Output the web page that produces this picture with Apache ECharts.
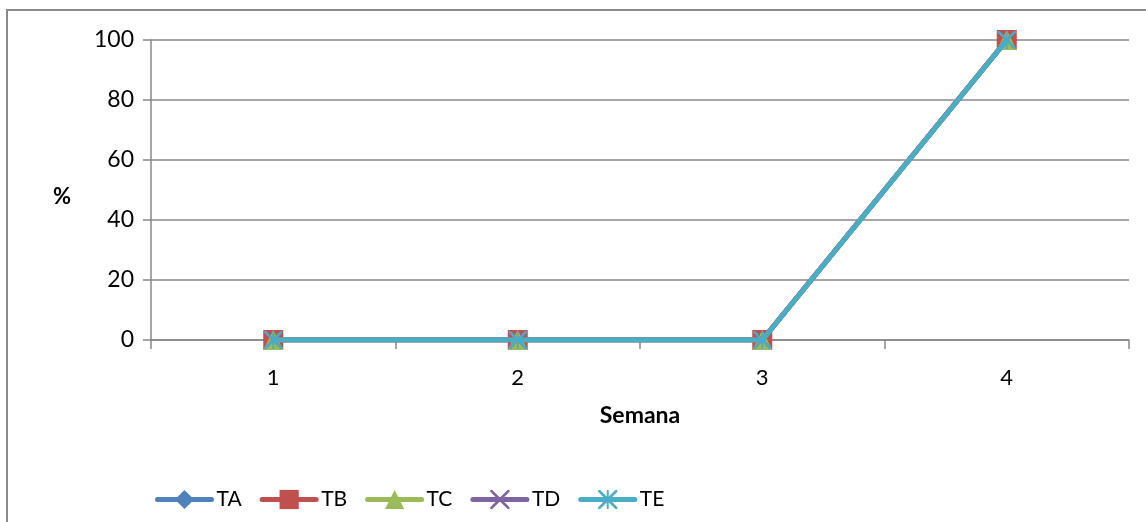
<!DOCTYPE html>
<html>
<head>
<meta charset="utf-8">
<script src="https://cdn.jsdelivr.net/npm/echarts@6/dist/echarts.min.js"></script>
<style>
  html, body { margin: 0; padding: 0; background: #fff; }
  #main { width: 1146px; height: 522px; }
</style>
</head>
<body>
<div id="main"></div>
<script>
// weeks on the x axis
let semanas = ['1', '2', '3', '4'];
// percent per week, one list per series
let serieTA = [0, 0, 0, 100];
let serieTB = [0, 0, 0, 100];
let serieTC = [0, 0, 0, 100];
let serieTD = [0, 0, 0, 100];
let serieTE = [0, 0, 0, 100];
let nomes = ['TA', 'TB', 'TC', 'TD', 'TE'];

// marker shapes like the office chart
let crossPath = 'path://M0,0 L2,0 L10,8 L18,0 L20,0 L20,2 L12,10 L20,18 L20,20 L18,20 L10,12 L2,20 L0,20 L0,18 L8,10 L0,2 Z';
let starPath = 'path://M0,0 L2,0 L10,8 L18,0 L20,0 L20,2 L12,10 L20,18 L20,20 L18,20 L10,12 L2,20 L0,20 L0,18 L8,10 L0,2 Z M9,0 L11,0 L11,20 L9,20 Z';

let cores = ['#4F81BD', '#C0504D', '#9BBB59', '#8064A2', '#4BACC6'];
let simbolos = ['diamond', 'rect', 'triangle', crossPath, starPath];
let tamanhos = [20, 20, 20, 18, 18];
let dados = [serieTA, serieTB, serieTC, serieTD, serieTE];

let fonte = 'Lato';

let myChart = echarts.init(document.getElementById('main'));

let option = {
    animation: false,
    color: cores,
    textStyle: { fontFamily: fonte },
    graphic: [{
        type: 'rect',
        shape: { x: 7, y: 10, width: 1160, height: 540 },
        style: { fill: 'none', stroke: '#8a8a8a', lineWidth: 2 },
        silent: true
    }],
    grid: { left: 151, right: 17, top: 40, bottom: 182, containLabel: false },
    legend: {
        left: 150,
        top: 484,
        itemWidth: 54,
        itemHeight: 24,
        itemGap: 18,
        lineStyle: { width: 5, cap: 'round' },
        textStyle: { fontFamily: fonte, fontSize: 21, color: '#000' },
        data: nomes
    },
    xAxis: {
        type: 'category',
        data: semanas,
        boundaryGap: true,
        name: 'Semana',
        nameLocation: 'middle',
        nameGap: 64,
        nameTextStyle: { fontFamily: fonte, fontSize: 23, fontWeight: 'bold', color: '#000' },
        axisLine: { lineStyle: { color: '#888', width: 1.5 } },
        axisTick: { show: true, length: 9, alignWithLabel: false, lineStyle: { color: '#888', width: 1.5 } },
        axisLabel: { fontSize: 22, color: '#000', margin: 27 }
    },
    yAxis: {
        type: 'value',
        min: 0,
        max: 100,
        interval: 20,
        name: '%',
        nameLocation: 'middle',
        nameRotate: 0,
        nameGap: 80,
        nameTextStyle: { fontFamily: fonte, fontSize: 22, fontWeight: 'bold', color: '#000', verticalAlign: 'top', padding: [-4, 0, 0, 0] },
        axisLine: { show: true, lineStyle: { color: '#888', width: 1.5 } },
        axisTick: { show: true, length: 8, inside: false, lineStyle: { color: '#888', width: 1.5 } },
        axisLabel: { fontSize: 23, color: '#000', margin: 17 },
        splitLine: { show: true, lineStyle: { color: '#888', width: 1.5 } }
    },
    series: nomes.map(function (nome, i) {
        return {
            name: nome,
            type: 'line',
            data: dados[i],
            symbol: simbolos[i],
            symbolSize: tamanhos[i],
            showAllSymbol: true,
            z: 2 + i,
            lineStyle: { width: 5, color: cores[i] },
            itemStyle: { color: cores[i] }
        };
    })
};

myChart.setOption(option);
</script>
</body>
</html>
